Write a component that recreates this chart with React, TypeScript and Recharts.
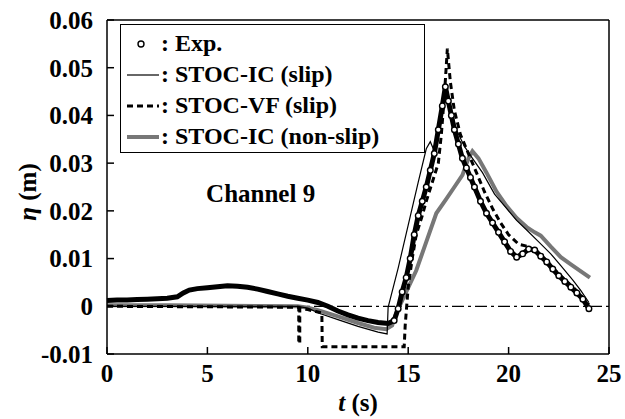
import React from 'react';
import { LineChart, Line, XAxis, YAxis, ReferenceLine, ReferenceDot, Legend } from 'recharts';

const xTicks = [0, 5, 10, 15, 20, 25];
const yTicks = [-0.01, 0, 0.01, 0.02, 0.03, 0.04, 0.05, 0.06];

const expPts: number[][] = [
  [0, 0.0012], [0.5, 0.0013], [1, 0.0013], [1.5, 0.0014], [2, 0.0015], [2.5, 0.0016], [3, 0.0017], [3.5, 0.0020],
  [3.8, 0.0028], [4.1, 0.0034], [4.5, 0.0037], [5, 0.0039], [5.5, 0.0041], [6, 0.0043], [6.5, 0.0042], [7, 0.004],
  [7.5, 0.0036], [8, 0.0031], [8.5, 0.0026], [9, 0.0021], [9.5, 0.0017], [10, 0.0013], [10.5, 0.0008], [11, 0.0],
  [11.5, -0.001], [12, -0.0018], [12.5, -0.0025], [13, -0.003], [13.5, -0.0034], [14, -0.0036], [14.3, -0.003],
  [14.5, -0.0005], [14.7, 0.003], [14.9, 0.006], [15.1, 0.01], [15.3, 0.015], [15.5, 0.019], [15.7, 0.022],
  [15.9, 0.025], [16.1, 0.0285], [16.3, 0.032], [16.5, 0.037], [16.7, 0.042], [16.85, 0.046], [17.0, 0.043],
  [17.15, 0.04], [17.3, 0.037], [17.5, 0.034], [17.7, 0.031], [17.9, 0.029], [18.1, 0.027], [18.3, 0.025],
  [18.6, 0.022], [18.9, 0.0195], [19.2, 0.0175], [19.5, 0.0155], [19.8, 0.0135], [20.1, 0.0115], [20.4, 0.0103],
  [20.7, 0.011], [21.0, 0.012], [21.3, 0.0118], [21.6, 0.0105], [21.9, 0.0093], [22.2, 0.0078], [22.5, 0.0064],
  [22.8, 0.0052], [23.1, 0.004], [23.4, 0.0028], [23.7, 0.0015], [24.0, -0.0005],
];

const icSlipPts: number[][] = [
  [0, 0], [9.5, 0], [10.0, -0.0004], [10.6, -0.0015], [11.5, -0.0028], [12.5, -0.0042], [13.5, -0.0054],
  [13.95, -0.0058], [14.0, -0.0002], [14.5, 0.008], [15.0, 0.017], [15.5, 0.026], [15.9, 0.033], [16.1, 0.0345],
  [16.25, 0.033], [16.45, 0.0355], [16.7, 0.042], [16.9, 0.045], [17.1, 0.042], [17.4, 0.037], [17.8, 0.0335],
  [18.2, 0.031], [18.7, 0.028], [19.3, 0.0235], [19.9, 0.0205], [20.4, 0.018], [20.9, 0.016], [21.5, 0.0135],
  [22.1, 0.011], [22.6, 0.0085], [23.2, 0.0055], [23.6, 0.0033], [24.0, 0.0008],
];

const vfSlipPts: number[][] = [
  [0, 0], [9.5, -0.0002], [9.55, -0.0002], [9.55, -0.0078], [9.6, -0.0078], [9.6, -0.0004], [10.0, -0.0007],
  [10.4, -0.0011], [10.7, -0.0014], [10.72, -0.0085], [14.8, -0.0085], [14.85, -0.004], [15.0, 0.004],
  [15.2, 0.01], [15.4, 0.015], [15.7, 0.019], [15.9, 0.022], [16.2, 0.026], [16.5, 0.03], [16.65, 0.036],
  [16.8, 0.044], [16.95, 0.054], [17.1, 0.047], [17.3, 0.041], [17.6, 0.036], [18.0, 0.032], [18.4, 0.028],
  [18.8, 0.024], [19.2, 0.0205], [19.6, 0.0175], [20.0, 0.015], [20.5, 0.013], [21.0, 0.0125], [21.5, 0.011],
  [22.0, 0.0088], [22.5, 0.0068], [23.0, 0.0048], [23.5, 0.0028], [24.0, 0.0003],
];

const icNonSlipPts: number[][] = [
  [0, 0.0002], [3, 0.0002], [6, 0.0001], [9.5, 0.0], [10.0, -0.0003], [10.5, -0.0008], [11.5, -0.0021],
  [12.5, -0.0035], [13.3, -0.0045], [13.9, -0.0048], [14.2, -0.004], [14.4, -0.0015], [14.9, 0.003],
  [15.4, 0.0075], [15.9, 0.0135], [16.4, 0.0195], [16.9, 0.0225], [17.3, 0.025], [17.7, 0.0275], [18.0, 0.031],
  [18.2, 0.0325], [18.5, 0.031], [18.9, 0.028], [19.4, 0.024], [19.9, 0.021], [20.4, 0.0185], [20.9, 0.0166],
  [21.3, 0.0155], [21.6, 0.0148], [22.1, 0.0125], [22.6, 0.0103], [23.1, 0.0088], [23.6, 0.0073], [24.05, 0.006],
];

const toRows = (pts: number[][]) => pts.map(([t, v]) => ({ t, v }));

const FONT = '"Liberation Serif", "Times New Roman", serif';
const tickStyle = { fill: '#000', fontFamily: FONT, fontWeight: 700, fontSize: 25 };

const ExpDot = (props: any) => {
  const { cx, cy, payload, index } = props;
  if (payload.t < 14.3) return <g key={`d${index}`} />;
  return <circle key={`d${index}`} cx={cx} cy={cy} r={2.8} fill="#fff" stroke="#000" strokeWidth={1.4} />;
};

const YLabel = (props: any) => {
  const vb = props.viewBox || { x: 0, y: 20, width: 107, height: 334 };
  const cx = vb.x + 27;
  const cy = vb.y + vb.height / 2 + 5;
  return (
    <text x={cx} y={cy} transform={`rotate(-90, ${cx}, ${cy})`} textAnchor="middle" dominantBaseline="central"
      style={{ fontFamily: FONT, fontWeight: 700, fontSize: 25, fill: '#000' }}>
      <tspan fontStyle="italic">η</tspan> (m)
    </text>
  );
};

const XLabel = (props: any) => {
  const vb = props.viewBox || { x: 107, y: 354, width: 502, height: 65 };
  const cx = vb.x + vb.width / 2;
  const cy = vb.y + 48;
  return (
    <text x={cx} y={cy} textAnchor="middle" dominantBaseline="central"
      style={{ fontFamily: FONT, fontWeight: 700, fontSize: 25, fill: '#000' }}>
      <tspan fontStyle="italic">t</tspan> (s)
    </text>
  );
};

const LegendBox = () => {
  const row = (sym: React.ReactNode, label: string) => (
    <div style={{ height: 31, display: 'flex', alignItems: 'center' }}>
      <svg width={40} height={31} style={{ display: 'block' }}>{sym}</svg>
      <span style={{ whiteSpace: 'nowrap' }}>{label}</span>
    </div>
  );
  return (
    <div style={{ border: '1.5px solid #000', background: '#fff', width: 305, height: 129, boxSizing: 'border-box',
      paddingTop: 3, fontFamily: FONT, fontWeight: 700, fontSize: 24, color: '#000', lineHeight: '31px' }}>
      {row(<circle cx={20} cy={16} r={3} fill="#fff" stroke="#000" strokeWidth={1.4} />, ': Exp.')}
      {row(<line x1={6} x2={38} y1={16} y2={16} stroke="#000" strokeWidth={1.2} />, ': STOC-IC (slip)')}
      {row(<line x1={6} x2={38} y1={16} y2={16} stroke="#000" strokeWidth={3} strokeDasharray="6 4" />, ': STOC-VF (slip)')}
      {row(<line x1={6} x2={38} y1={16} y2={16} stroke="#777" strokeWidth={4} />, ': STOC-IC (non-slip)')}
    </div>
  );
};

export default function App() {
  return (
    <div style={{ position: 'absolute', left: 0, top: 0, background: '#fff' }}>
      <LineChart width={625} height={419} margin={{ top: 20, right: 16, bottom: 0, left: 0 }}>
        <XAxis type="number" dataKey="t" domain={[0, 25]} ticks={xTicks} height={65} tickSize={-7} tickMargin={17}
          stroke="#000" strokeWidth={1.5} tick={tickStyle} allowDuplicatedCategory={false} label={<XLabel />} />
        <YAxis type="number" domain={[-0.01, 0.06]} ticks={yTicks} width={107} tickSize={-7} tickMargin={21}
          stroke="#000" strokeWidth={1.5} tick={tickStyle}
          tickFormatter={(v: number) => (v === 0 ? '0' : v.toFixed(2))} label={<YLabel />} />
        <ReferenceLine y={0.06} stroke="#000" strokeWidth={1.5} />
        <ReferenceLine x={25} stroke="#000" strokeWidth={1.5} />
        <ReferenceLine y={0} stroke="#000" strokeWidth={1.2} strokeDasharray="12 4 3 4" />
        <Line data={toRows(icNonSlipPts)} dataKey="v" type="linear" stroke="#777" strokeWidth={4} dot={false}
          isAnimationActive={false} />
        <Line data={toRows(icSlipPts)} dataKey="v" type="linear" stroke="#000" strokeWidth={1.2} dot={false}
          isAnimationActive={false} />
        <Line data={toRows(vfSlipPts)} dataKey="v" type="linear" stroke="#000" strokeWidth={3} strokeDasharray="6 4"
          dot={false} isAnimationActive={false} />
        <Line data={toRows(expPts)} dataKey="v" type="linear" stroke="#000" strokeWidth={5} dot={ExpDot}
          isAnimationActive={false} />
        <ReferenceDot x={7.65} y={0.0237} r={0} fill="none" stroke="none"
          label={{ value: 'Channel 9', position: 'center', fill: '#000', fontFamily: FONT, fontWeight: 700, fontSize: 25 }} />
        <Legend layout="vertical" align="center" verticalAlign="middle" content={<LegendBox />}
          wrapperStyle={{ position: 'absolute', left: 120, top: 24, width: 305, height: 129 }} />
      </LineChart>
    </div>
  );
}
